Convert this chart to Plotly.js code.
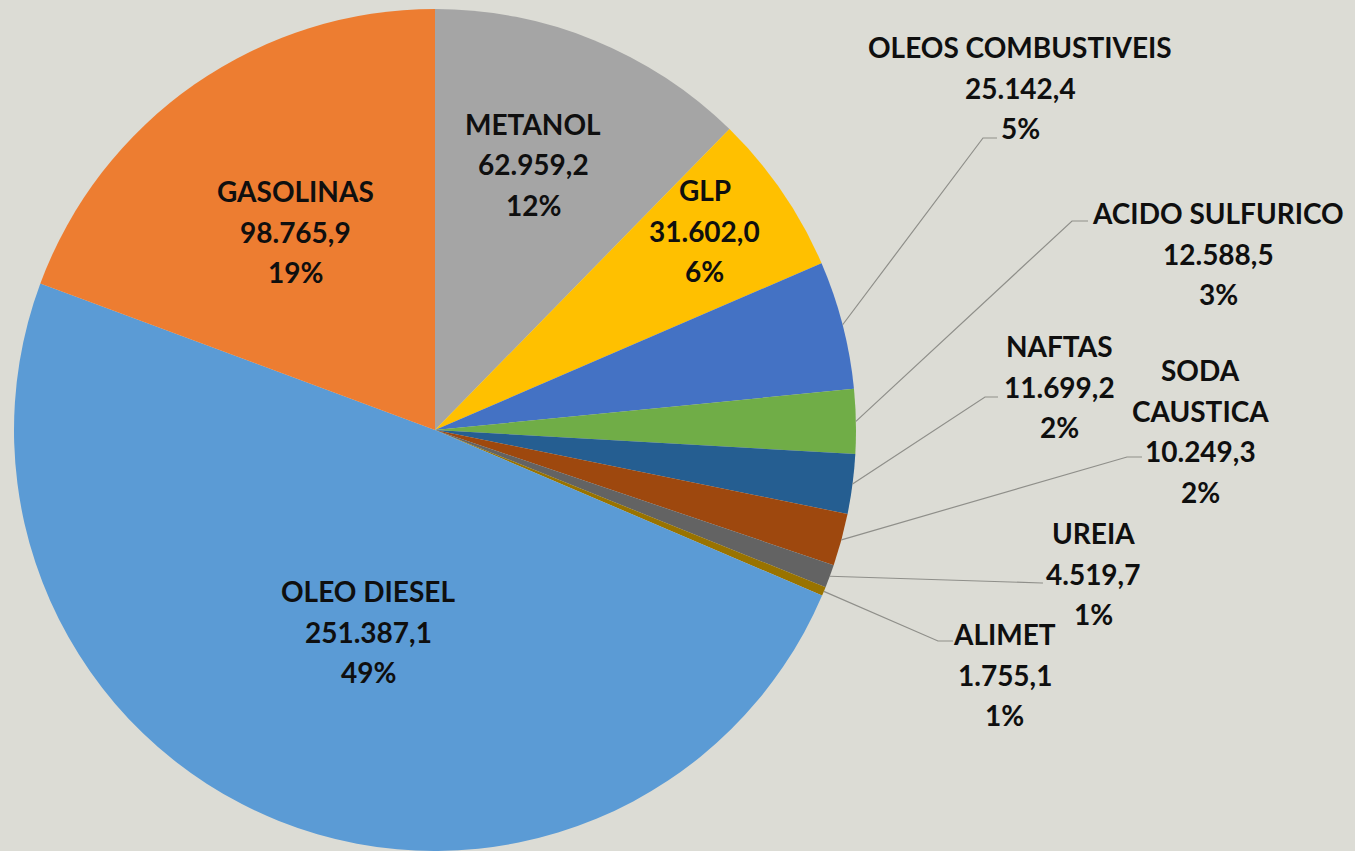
<!DOCTYPE html>
<html>
<head>
<meta charset="utf-8">
<script src="https://cdn.plot.ly/plotly-3.0.1.min.js"></script>
<style>html,body{margin:0;padding:0;background:#dcdcd5;}#chart{width:1355px;height:851px;}</style>
</head>
<body>
<div id="chart"></div>
<script>
// ---- data ----
const categories = ['METANOL', 'GLP', 'OLEOS COMBUSTIVEIS', 'ACIDO SULFURICO', 'NAFTAS', 'SODA CAUSTICA', 'UREIA', 'ALIMET', 'OLEO DIESEL', 'GASOLINAS'];
const values = [62959.2, 31602.0, 25142.4, 12588.5, 11699.2, 10249.3, 4519.7, 1755.1, 251387.1, 98765.9];
const percentLabels = ['12%', '6%', '5%', '3%', '2%', '2%', '1%', '1%', '49%', '19%'];
const colors = ['#a5a5a5', '#ffc000', '#4472c4', '#70ad47', '#255e91', '#9e480e', '#636363', '#997300', '#5b9bd5', '#ed7d31'];

// ---- layout helpers (pixel positions of label text, not data) ----
const W = 1355, H = 851;
const cx = 435, cy = 430, R = 421;
const labelPos = [
  [533, 124], [705, 190], [1020, 47], [1218, 213], [1059, 346],
  [1200, 370], [1093, 533], [1005, 634], [368, 591], [295, 191]
];
const outside = [false, false, true, true, true, true, true, true, false, false];
// leader bend / end points
const leaderBend = {2: [983, 138, 997], 3: [1072, 221, 1088], 4: [985, 397, 998], 5: [1127, 457, 1142], 6: [1042, 583, 1043], 7: [938, 641, 953]};
const wrapNames = {'SODA CAUSTICA': ['SODA', 'CAUSTICA']};

function fmt(v) {
  const s = v.toFixed(1);
  let [ip, dp] = s.split('.');
  ip = ip.replace(/\B(?=(\d{3})+(?!\d))/g, '.');
  return ip + ',' + dp;
}
const px = x => x / W;
const py = y => (H - y) / H;

const annotations = [];
const shapes = [];
const lineGap = 40.5;
const total = values.reduce((a, b) => a + b, 0);
let cum = 0;
categories.forEach((c, i) => {
  const lines = (wrapNames[c] || [c]).concat([fmt(values[i]), percentLabels[i]]);
  lines.forEach((t, k) => {
    annotations.push({
      x: px(labelPos[i][0]), y: py(labelPos[i][1] + k * lineGap),
      xref: 'paper', yref: 'paper', xanchor: 'center', yanchor: 'middle',
      text: t, showarrow: false,
      font: {family: 'Lato, "Open Sans", sans-serif', size: 28, weight: 'bold', color: '#0f0f0f'}
    });
  });
  const mid = (cum + values[i] / 2) / total * 2 * Math.PI;
  cum += values[i];
  if (outside[i]) {
    const sx = cx + R * Math.sin(mid), sy = cy - R * Math.cos(mid);
    const b = leaderBend[i];
    shapes.push({type: 'path', xref: 'paper', yref: 'paper',
      path: `M ${px(sx)} ${py(sy)} L ${px(b[0])} ${py(b[1])} L ${px(b[2])} ${py(b[1])}`,
      line: {color: '#8f8f8a', width: 1.2}});
  }
});

const trace = {
  type: 'pie',
  labels: categories,
  values: values,
  sort: false,
  direction: 'clockwise',
  rotation: 0,
  textinfo: 'none',
  hoverinfo: 'none',
  marker: {colors: colors, line: {width: 0}},
  domain: {x: [(cx - R) / W, (cx + R) / W], y: [py(cy + R), py(cy - R)]},
  showlegend: false
};

const layout = {
  width: W, height: H,
  margin: {l: 0, r: 0, t: 0, b: 0},
  paper_bgcolor: '#dcdcd5',
  plot_bgcolor: '#dcdcd5',
  showlegend: false,
  annotations: annotations,
  shapes: shapes
};

Plotly.newPlot('chart', [trace], layout, {displayModeBar: false, staticPlot: true});
</script>
</body>
</html>
